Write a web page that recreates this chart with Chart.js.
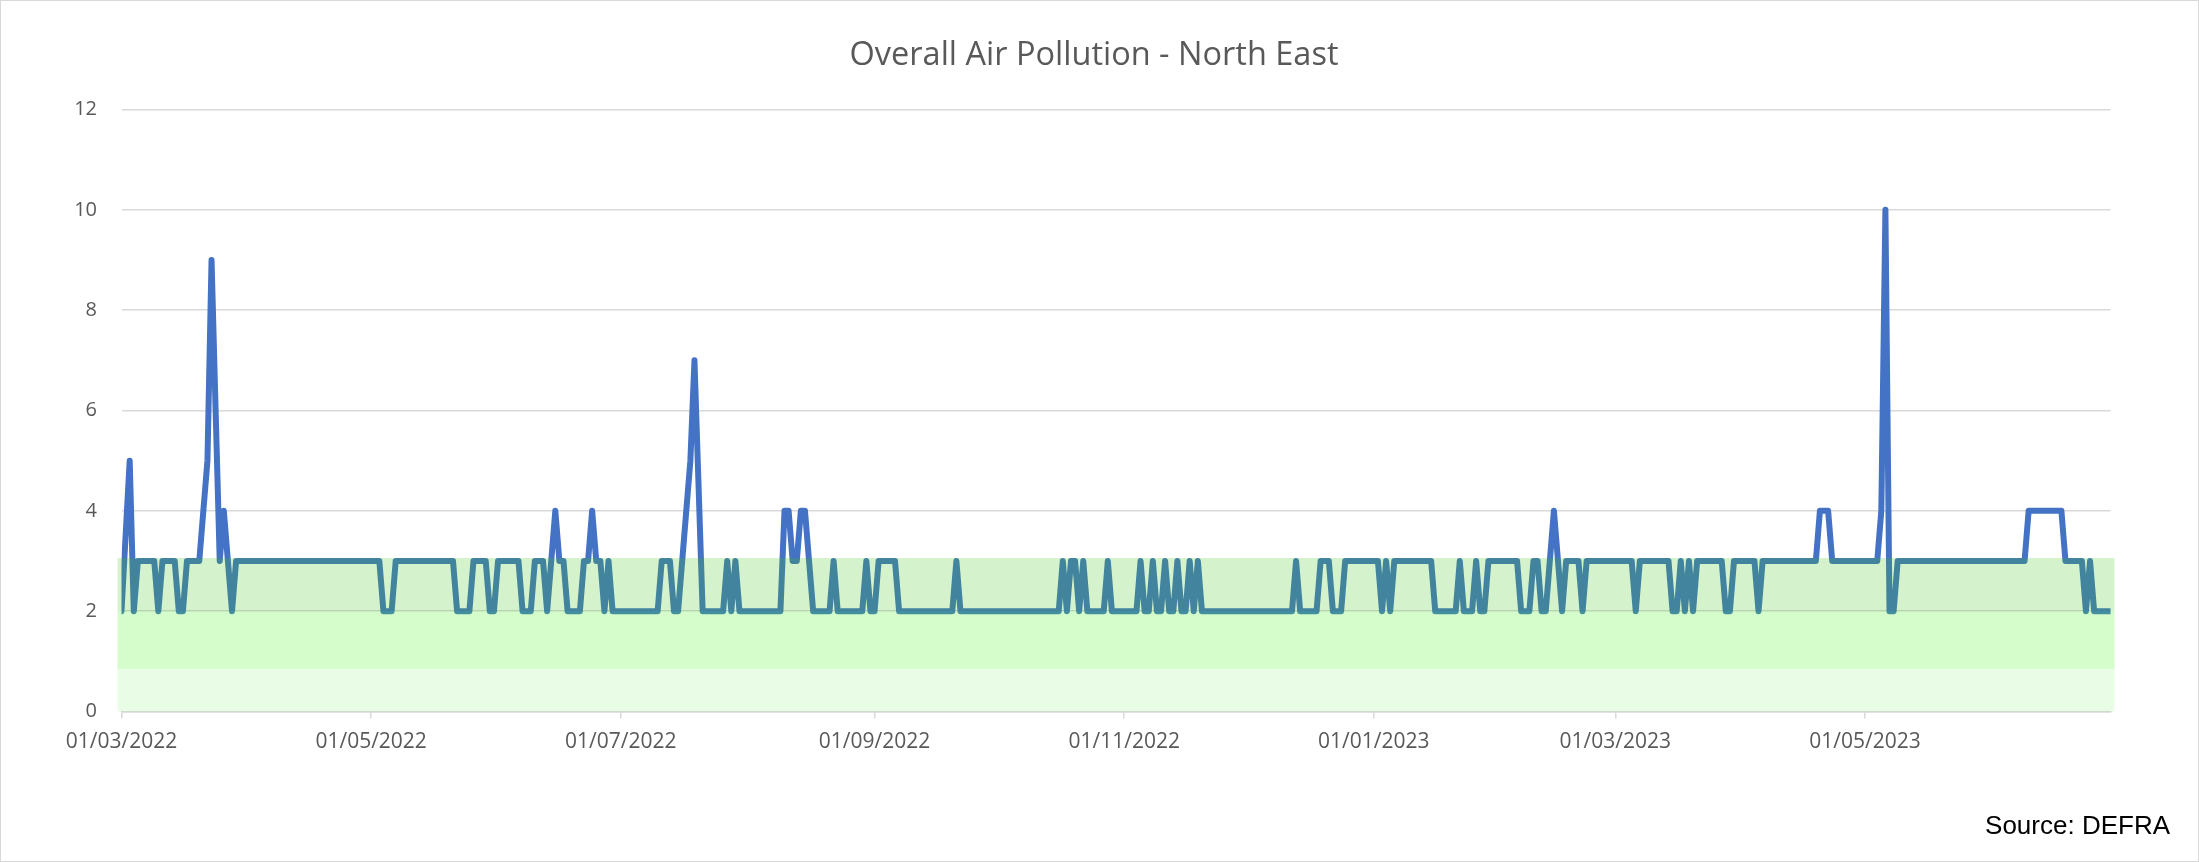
<!DOCTYPE html>
<html><head><meta charset="utf-8">
<script src="https://cdn.jsdelivr.net/npm/chart.js@4.4.0/dist/chart.umd.min.js"></script>
<style>
html,body{margin:0;padding:0;background:#fff;}
#wrap{position:relative;width:2199px;height:862px;}
#frame{position:absolute;left:0;top:0;width:2199px;height:862px;box-sizing:border-box;border:1px solid #d9d9d9;pointer-events:none;}
canvas{display:block;}
</style></head><body>
<div id="wrap"><canvas id="c" width="2199" height="862"></canvas><div id="frame"></div></div>
<script>
const chartTitle = 'Overall Air Pollution - North East';
const sourceNote = 'Source: DEFRA';
const tickLabels = ['01/03/2022','01/05/2022','01/07/2022','01/09/2022','01/11/2022','01/01/2023','01/03/2023','01/05/2023'];
const yTicks = [0,2,4,6,8,10,12];
const bandEdges = [0, 0.85, 2, 3.06];
const values = [
2,null,5,2,3,3,3,3,3,2,
3,3,3,3,2,2,3,3,3,3,
4,5,9,6,3,4,3,2,3,3,
3,3,3,3,3,3,3,3,3,3,
3,3,3,3,3,3,3,3,3,3,
3,3,3,3,3,3,3,3,3,3,
3,3,3,3,2,2,2,3,3,3,
3,3,3,3,3,3,3,3,3,3,
3,3,2,2,2,2,3,3,3,3,
2,2,3,3,3,3,3,3,2,2,
2,3,3,3,2,3,4,3,3,2,
2,2,2,3,3,4,3,3,2,3,
2,2,2,2,2,2,2,2,2,2,
2,2,3,3,3,2,2,3,4,5,
7,null,2,2,2,2,2,2,3,2,
3,2,2,2,2,2,2,2,2,2,
2,2,4,4,3,3,4,4,3,2,
2,2,2,2,3,2,2,2,2,2,
2,2,3,2,2,3,3,3,3,3,
2,2,2,2,2,2,2,2,2,2,
2,2,2,2,3,2,2,2,2,2,
2,2,2,2,2,2,2,2,2,2,
2,2,2,2,2,2,2,2,2,2,
3,2,3,3,2,3,2,2,2,2,
2,3,2,2,2,2,2,2,2,3,
2,2,3,2,2,3,2,2,3,2,
2,3,2,3,2,2,2,2,2,2,
2,2,2,2,2,2,2,2,2,2,
2,2,2,2,2,2,2,3,2,2,
2,2,2,3,3,3,2,2,2,3,
3,3,3,3,3,3,3,3,2,3,
2,3,3,3,3,3,3,3,3,3,
3,2,2,2,2,2,2,3,2,2,
2,3,2,2,3,3,3,3,3,3,
3,3,2,2,2,3,3,2,2,3,
4,3,2,3,3,3,3,2,3,3,
3,3,3,3,3,3,3,3,3,3,
2,3,3,3,3,3,3,3,3,2,
2,3,2,3,2,3,3,3,3,3,
3,3,2,2,3,3,3,3,3,3,
2,3,3,3,3,3,3,3,3,3,
3,3,3,3,3,4,4,4,3,3,
3,3,3,3,3,3,3,3,3,3,
4,10,2,2,3,3,3,3,3,3,
3,3,3,3,3,3,3,3,3,3,
3,3,3,3,3,3,3,3,3,3,
3,3,3,3,3,3,4,4,4,4,
4,4,4,4,4,3,3,3,3,3,
2,3,2,2,2,2,2
];

// daily date categories, starting 01/03/2022
const pad2 = n => (n < 10 ? '0' : '') + n;
const dates = values.map((_, i) => {
  const d = new Date(Date.UTC(2022, 2, 1 + i));
  return pad2(d.getUTCDate()) + '/' + pad2(d.getUTCMonth() + 1) + '/' + d.getUTCFullYear();
});

const bandColors = ['rgba(35,235,5,0.10)', 'rgba(68,246,24,0.225)', 'rgba(64,197,27,0.225)'];

const bandPlugin = {
  id: 'bands',
  afterDatasetsDraw(chart) {
    const {ctx, chartArea: a, scales: {y}} = chart;
    ctx.save();
    for (let i = 0; i < bandEdges.length - 1; i++) {
      const top = y.getPixelForValue(bandEdges[i + 1]);
      const bot = y.getPixelForValue(bandEdges[i]);
      ctx.fillStyle = bandColors[i];
      ctx.fillRect(a.left - 4, top, (a.right - a.left) + 8, bot - top);
    }
    ctx.restore();
  }
};

function build() {
  new Chart(document.getElementById('c'), {
    type: 'line',
    data: {
      datasets: [{
        label: 'Overall Air Pollution',
        data: values.map((v, i) => ({x: i, y: v})),
        borderColor: '#4472C4',
        backgroundColor: '#4472C4',
        borderWidth: 6,
        pointRadius: 0,
        tension: 0,
        spanGaps: true,
        borderJoinStyle: 'round',
        borderCapStyle: 'round',
        yAxisID: 'y'
      }]
    },
    options: {
      responsive: false,
      animation: false,
      events: [],
      layout: {padding: {left: 18, right: 29, top: 0, bottom: 0}},
      plugins: {
        legend: {display: false},
        tooltip: {enabled: false},
        title: {
          display: true, text: chartTitle, color: '#595959',
          font: {family: 'Open Sans', size: 32.5, weight: 'normal'},
          padding: {top: 36.5, bottom: 34}
        },
        subtitle: {
          display: true, text: sourceNote, position: 'bottom', align: 'end', color: '#000000',
          font: {family: 'Liberation Sans', size: 26, weight: 'normal'},
          padding: {top: 14, bottom: 19.4}
        }
      },
      scales: {
        x: {
          type: 'linear', min: 0, max: dates.length - 1,
          afterBuildTicks: s => { s.ticks = tickLabels.map(l => ({value: dates.indexOf(l)})); },
          afterFit: s => { s.height = 85.9; },
          grid: {drawOnChartArea: false, drawTicks: true, tickLength: 7, color: '#d9d9d9', lineWidth: 1.5},
          border: {display: true, color: '#d9d9d9', width: 1.5},
          ticks: {autoSkip: false, maxRotation: 0, padding: 11, color: '#595959',
                  font: {family: 'Open Sans', size: 21}, callback: v => dates[v]}
        },
        y: {
          min: 0, max: 12,
          afterBuildTicks: s => { s.ticks = yTicks.map(v => ({value: v})); },
          afterFit: s => { s.width = 103.5; },
          grid: {color: '#d9d9d9', lineWidth: 1.5, drawTicks: false},
          border: {display: false},
          ticks: {padding: 24.5, color: '#595959', font: {family: 'Open Sans', size: 20}}
        },
        y2: {
          position: 'right', display: true,
          afterFit: s => { s.width = 59.5; },
          grid: {display: false, drawTicks: false},
          border: {display: false},
          ticks: {display: false}
        }
      }
    },
    plugins: [bandPlugin]
  });
}

Promise.all([
  document.fonts.load('32px "Open Sans"'),
  document.fonts.load('21px "Open Sans"'),
  document.fonts.load('26px "Liberation Sans"')
]).then(build, build);
</script>
</body></html>
